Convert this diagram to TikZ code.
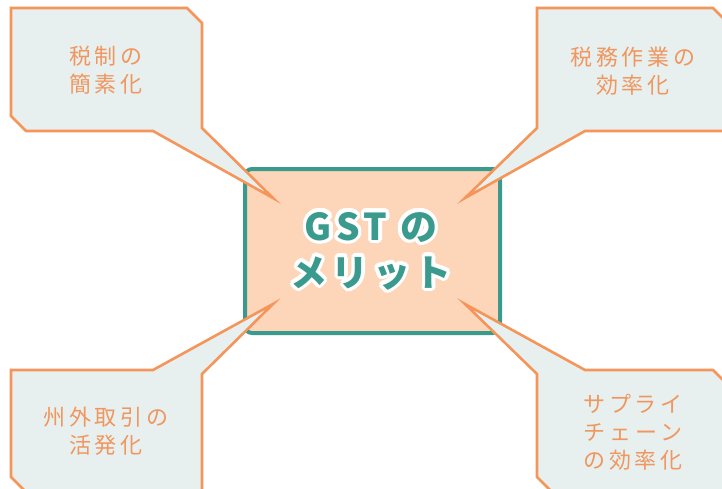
\documentclass[tikz,border=0pt]{standalone}
\usepackage{fontspec}
\newfontfamily\cjk[LetterSpace=18]{Noto Sans CJK JP}
\newfontfamily\cjkm[LetterSpace=12]{Noto Sans CJK JP}
\definecolor{orng}{HTML}{F5955A}
\definecolor{orngtext}{HTML}{F0965E}
\definecolor{bubble}{HTML}{E7F0EF}
\definecolor{peach}{HTML}{FDD5B8}
\definecolor{teal2}{HTML}{3A9A8E}
\tikzset{
  bubblebox/.style={draw=orng, fill=bubble, line width=2.6pt, line join=miter},
  bubbletext/.style={text=orngtext, align=center, inner sep=0pt, font=\cjk\fontsize{22}{28}\selectfont},
  mainbox/.style={draw=teal2, fill=peach, line width=4pt, rounded corners=7pt, minimum width=255pt, minimum height=164pt},
  maintext/.style={align=center, inner sep=0pt, font=\cjkm\bfseries\fontsize{37}{46}\selectfont}
}
\begin{document}
\begin{tikzpicture}[x=1pt,y=-1pt]
\useasboundingbox (0,0) rectangle (722,488);
\clip (0,0) rectangle (722,488);
% central box
\node[mainbox] (c) at (372.5,251) {};
% callouts
\draw[bubblebox] (11,8) -- (187,8) -- (202,23) -- (202,128) -- (273,198) -- (153,131) -- (26,131) -- (11,116) -- cycle;
\draw[bubblebox] (537,8) -- (713,8) -- (730,25) -- (730,131) -- (585,131) -- (465,198) -- (537,128) -- cycle;
\draw[bubblebox] (11,370) -- (153,370) -- (273,304) -- (202,374) -- (202,494) -- (28,494) -- (11,477) -- cycle;
\draw[bubblebox] (537,374) -- (465,304) -- (585,370) -- (713,370) -- (730,387) -- (730,494) -- (554,494) -- (537,477) -- cycle;
% callout texts
\node[bubbletext] (t1) at (106,70) {税制の\\簡素化};
\node[bubbletext] (t2) at (633,71) {税務作業の\\効率化};
\node[bubbletext] (t3) at (106,431) {州外取引の\\活発化};
\node[bubbletext] (t4) at (633,432) {サプライ\\チェーン\\の効率化};
% central text with white halo
\foreach \a [count=\i] in {0,22.5,...,337.5}
  \node[maintext, text=white] (h\i) at ([shift={(\a:3.5pt)}]371,251) {GST の\\メリット};
\node[maintext, text=teal2] (m) at (371,251) {GST の\\メリット};
\end{tikzpicture}
\end{document}
